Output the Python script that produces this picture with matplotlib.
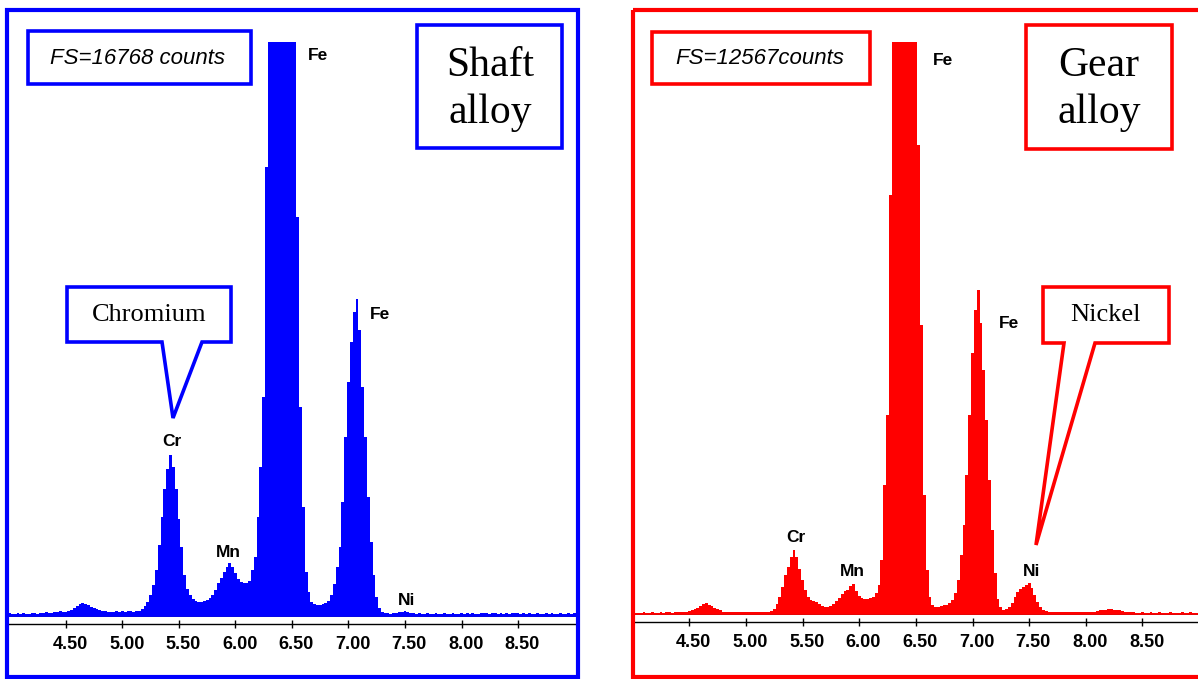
import numpy as np
import matplotlib
matplotlib.use('Agg')
import matplotlib.pyplot as plt
import matplotlib.transforms as mtransforms
from matplotlib.patches import Polygon

# Spectra: counts per 0.025 keV channel, first channel at 3.975 keV
e_start = 3.975
e_step = 0.025

shaft_counts = [
    90, 120, 85, 95, 115, 90, 125, 100, 95, 120,
    115, 95, 120, 110, 140, 120, 125, 145, 150, 165,
    145, 150, 175, 205, 265, 320, 380, 410, 380, 350,
    290, 265, 235, 205, 175, 170, 150, 145, 150, 175,
    150, 170, 150, 175, 180, 150, 175, 180, 235, 320,
    440, 640, 935, 1370, 2100, 2915, 3735, 4315, 4725, 4375,
    3730, 2860, 2040, 1225, 815, 640, 525, 465, 440, 435,
    465, 495, 555, 640, 785, 990, 1135, 1310, 1460, 1575,
    1460, 1285, 1110, 1020, 990, 990, 1050, 1370, 1750, 2915,
    4375, 6415, 13120, 24000, 34000, 42000, 47000, 50000, 49000, 45000,
    39000, 31000, 22000, 11660, 6125, 3210, 1310, 730, 440, 380,
    350, 345, 380, 410, 465, 640, 960, 1460, 2040, 3355,
    5250, 6850, 8020, 8895, 9275, 8370, 6705, 5250, 3500, 2185,
    1225, 585, 260, 145, 115, 110, 95, 115, 120, 140,
    145, 165, 150, 120, 110, 95, 110, 90, 95, 115,
    90, 85, 110, 95, 90, 115, 95, 90, 110, 95,
    95, 110, 90, 115, 95, 120, 95, 90, 115, 110,
    110, 95, 120, 115, 90, 120, 95, 115, 90, 110,
    115, 120, 95, 110, 90, 115, 95, 90, 110, 95,
    90, 115, 95, 120, 90, 95, 115, 90, 95, 110,
    95, 110, 90,
]

gear_counts = [
    45, 40, 35, 45, 40, 55, 45, 40, 55, 45,
    45, 55, 45, 55, 55, 45, 55, 65, 60, 70,
    75, 90, 110, 130, 155, 195, 240, 265, 220, 195,
    155, 130, 100, 75, 65, 55, 55, 65, 55, 55,
    55, 65, 55, 55, 65, 55, 65, 65, 55, 65,
    90, 130, 240, 395, 615, 875, 1055, 1270, 1425, 1270,
    1010, 770, 550, 395, 330, 305, 285, 240, 195, 175,
    175, 195, 240, 305, 375, 460, 525, 550, 635, 680,
    525, 415, 375, 350, 350, 375, 395, 480, 660, 1205,
    2850, 4385, 9210, 18000, 25000, 31000, 35000, 37000, 36000, 32000,
    26000, 19000, 10300, 6360, 2630, 985, 395, 220, 175, 175,
    195, 220, 220, 265, 330, 480, 770, 1315, 1975, 3070,
    4385, 5745, 6690, 7125, 6405, 5375, 4275, 2960, 1865, 920,
    350, 175, 110, 130, 175, 265, 395, 505, 570, 615,
    660, 700, 590, 440, 285, 175, 110, 90, 75, 65,
    65, 65, 55, 65, 70, 55, 65, 65, 75, 65,
    65, 65, 75, 65, 75, 90, 100, 110, 120, 130,
    130, 120, 110, 100, 90, 75, 65, 55, 55, 45,
    45, 55, 45, 45, 55, 45, 45, 55, 45, 45,
    45, 55, 45, 45, 45, 55, 45, 45, 55, 45,
    45, 50, 45,
]

shaft_fs = 16768
gear_fs = 12567
tick_kev = [4.5, 5.0, 5.5, 6.0, 6.5, 7.0, 7.5, 8.0, 8.5]

# element labels (name, keV, counts)
shaft_lines = [('Fe', 6.73, 16360), ('Fe', 7.28, 8835), ('Cr', 5.44, 5130),
               ('Mn', 5.94, 1895), ('Ni', 7.51, 470)]
gear_lines = [('Fe', 6.74, 12170), ('Fe', 7.32, 6400), ('Cr', 5.44, 1690),
              ('Mn', 5.94, 965), ('Ni', 7.52, 965)]

W, H = 1198, 679
fig = plt.figure(figsize=(W / 100, H / 100), dpi=100)


def fxy(pts):
    return [(x / W, 1 - y / H) for x, y in pts]


def outline(pts, color, lw):
    fig.add_artist(Polygon(fxy(pts), closed=True, transform=fig.transFigure,
                           facecolor='white', edgecolor=color, lw=lw, zorder=3))


def label(x, y, s, **kw):
    fig.text(x / W, 1 - y / H, s, ha='center', va='center', zorder=4, **kw)


def spectrum(rect, counts, fs, xlim, color, lines):
    ax = fig.add_axes(rect)
    ax.set_facecolor('none')
    energy = e_start + e_step * np.arange(len(counts))
    ax.fill_between(energy, counts, step='mid', color=color, lw=0)
    ax.axhline(0, color='#333333', lw=0.9)
    ax.set_xlim(*xlim)
    ax.set_ylim(0, fs)
    for sp in ['left', 'right', 'top']:
        ax.spines[sp].set_visible(False)
    ax.spines['bottom'].set_position(('outward', 5))
    ax.spines['bottom'].set_linewidth(1.0)
    ax.set_yticks([])
    ax.set_xticks(tick_kev)
    ax.set_xticklabels(['%.2f' % t for t in tick_kev])
    ax.tick_params(axis='x', direction='inout', length=6, width=1, pad=6,
                   labelsize=13)
    shift = mtransforms.ScaledTranslation(3 / 72, 0, fig.dpi_scale_trans)
    for t in ax.get_xticklabels():
        t.set_fontfamily('Liberation Sans')
        t.set_fontweight('bold')
        t.set_transform(t.get_transform() + shift)
    for name, e, c in lines:
        ax.text(e, c, name, ha='center', va='center', fontsize=12.5,
                fontweight='bold', family='Liberation Sans')
    return ax


# Shaft alloy (blue)
spectrum([9 / W, 1 - 617 / H, 567 / W, 575 / H], shaft_counts, shaft_fs,
         (3.996, 9.013), '#0000FF', shaft_lines)
# Gear alloy (red)
spectrum([635 / W, 1 - 615 / H, 563 / W, 573 / H], gear_counts, gear_fs,
         (4.021, 8.99), '#FF0000', gear_lines)

# panel frames
fig.add_artist(Polygon(fxy([(6.5, 10), (578, 10), (578, 677), (6.5, 677)]), closed=True,
                       transform=fig.transFigure, fill=False, edgecolor='#0000FF', lw=3, zorder=3))
fig.add_artist(Polygon(fxy([(632.5, 10), (1215, 10), (1215, 677), (632.5, 677)]), closed=True,
                       transform=fig.transFigure, fill=False, edgecolor='#FF0000', lw=3, zorder=3))

# boxes
outline([(28, 31), (251, 31), (251, 84), (28, 84)], '#0000FF', 2.6)
label(138, 59, 'FS=16768 counts', fontsize=16, style='italic', family='Liberation Sans')
outline([(417, 25), (562, 25), (562, 148), (417, 148)], '#0000FF', 2.6)
label(490, 89, 'Shaft\nalloy', fontsize=30, family='Liberation Serif', linespacing=1.3)
outline([(67, 287), (231, 287), (231, 342), (202, 342), (173, 418), (162, 342), (67, 342)],
        '#0000FF', 2.6)
label(149, 315, 'Chromium', fontsize=19, family='Liberation Serif')

outline([(652, 32), (870, 32), (870, 84), (652, 84)], '#FF0000', 2.6)
label(760, 59, 'FS=12567counts', fontsize=16, style='italic', family='Liberation Sans')
outline([(1026, 25), (1172, 25), (1172, 149), (1026, 149)], '#FF0000', 2.6)
label(1099, 89, 'Gear\nalloy', fontsize=30, family='Liberation Serif', linespacing=1.3)
outline([(1043, 287), (1169, 287), (1169, 343), (1095, 343), (1036, 545), (1064, 343), (1043, 343)],
        '#FF0000', 2.6)
label(1105, 315, 'Nickel', fontsize=19, family='Liberation Serif')

fig.savefig('out.png', dpi=100)
